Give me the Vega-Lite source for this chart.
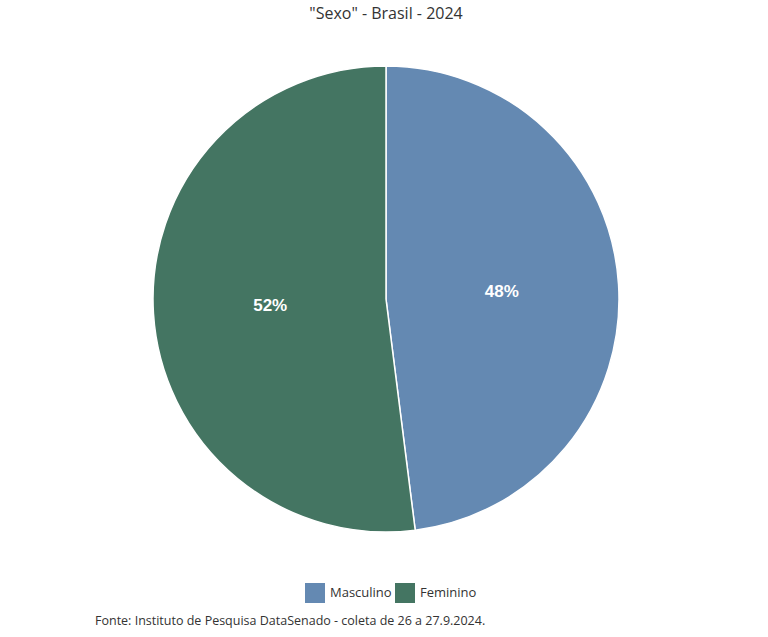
{
  "$schema": "https://vega.github.io/schema/vega-lite/v6.json",
  "background": "white",
  "padding": {"left": 4, "right": 0, "top": 6, "bottom": 0},
  "title": {"text": "\"Sexo\" - Brasil - 2024", "fontSize": 16, "font": "Open Sans", "fontWeight": "normal", "color": "#333333", "anchor": "middle", "offset": 41},
  "config": {"view": {"stroke": null}, "concat": {"spacing": 0}},
  "vconcat": [
    {
      "width": 764,
      "height": 466,
      "title": {"text": "Fonte: Instituto de Pesquisa DataSenado - coleta de 26 a 27.9.2024.", "orient": "bottom", "anchor": "start", "frame": "group", "dx": 91, "fontSize": 12.5, "font": "Open Sans", "fontWeight": "normal", "color": "#333333", "offset": 80},
      "data": {"values": [
        {"sexo": "Masculino", "pct": 48, "rotulo": "48%"},
        {"sexo": "Feminino", "pct": 52, "rotulo": "52%"}
      ]},
      "encoding": {
        "theta": {"field": "pct", "type": "quantitative", "stack": true},
        "order": {"field": "pct", "type": "quantitative", "sort": "ascending"},
        "color": {
          "field": "sexo", "type": "nominal",
          "scale": {"domain": ["Masculino", "Feminino"], "range": ["#6489B2", "#447562"]},
          "legend": {"title": null, "orient": "none", "legendX": 301, "legendY": 517, "direction": "horizontal", "symbolType": "square", "symbolSize": 400, "symbolStrokeWidth": 0, "labelFontSize": 13, "labelFont": "Open Sans", "labelColor": "#333333", "columnPadding": 3, "labelOffset": 5}
        }
      },
      "layer": [
        {"mark": {"type": "arc", "outerRadius": 233, "stroke": "white", "strokeWidth": 1.5}},
        {"mark": {"type": "text", "radius": 116, "fontSize": 17, "fontWeight": "bold", "font": "Liberation Sans", "fill": "white"},
         "encoding": {"text": {"field": "rotulo"}}}
      ]
    }
  ]
}
